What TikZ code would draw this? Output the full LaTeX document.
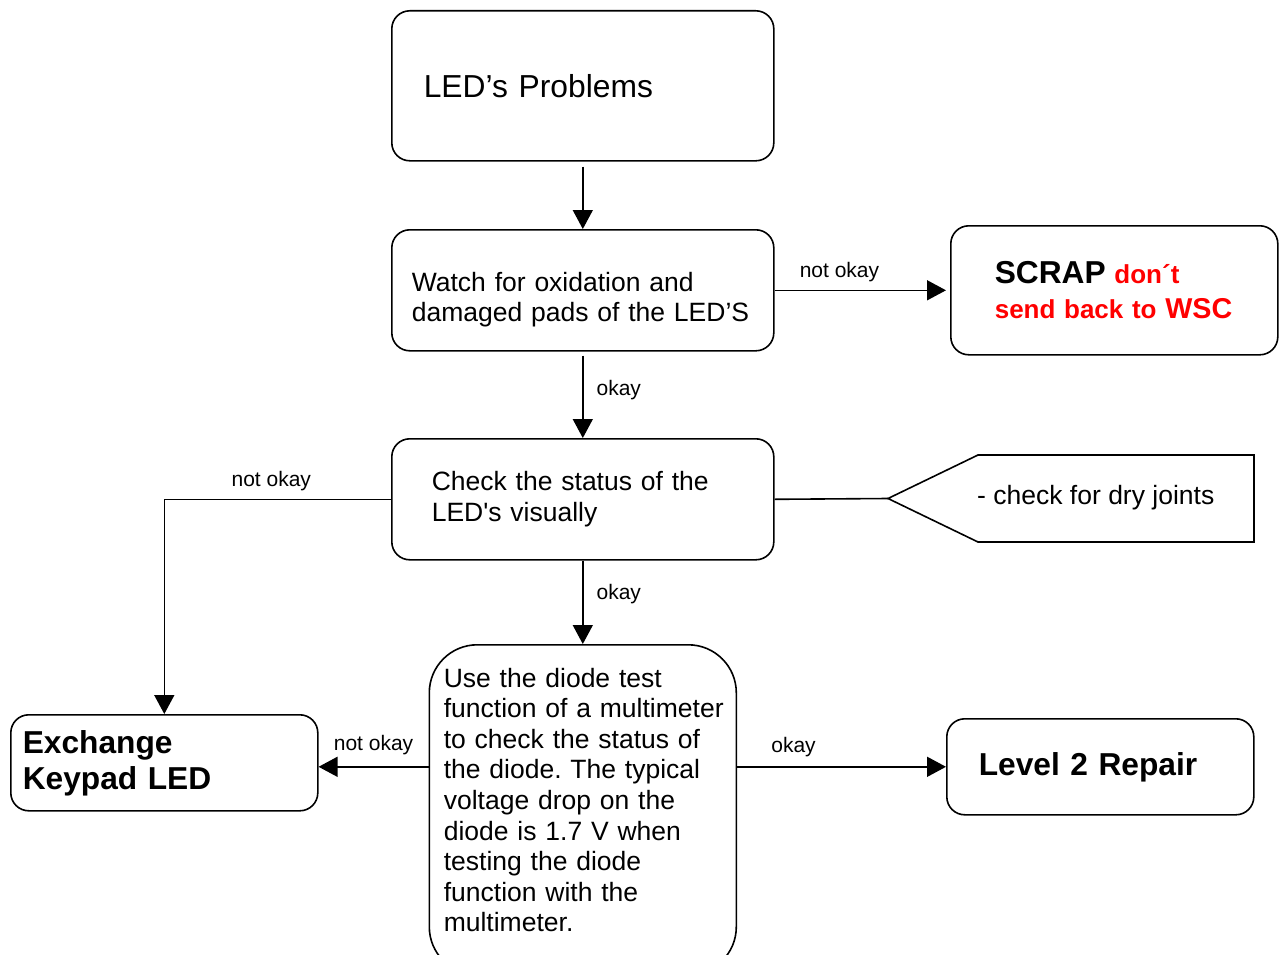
\documentclass[tikz,border=0pt]{standalone}
\usepackage{fontspec}
\setmainfont{Liberation Sans}
\usetikzlibrary{arrows.meta}
\frenchspacing

\newcommand{\bodyfont}{\fontsize{26.5}{30.6}\selectfont}
\newcommand{\bigbold}{\fontsize{31.7}{36}\selectfont\bfseries}
\newcommand{\lblfont}{\fontsize{21}{25}\selectfont}

\begin{document}
\begin{tikzpicture}[x=1pt, y=-1pt,
    box/.style={draw, line width=1.6pt, rounded corners=18pt, align=left, font=\bodyfont},
    arr/.style={-{Triangle[length=19pt,width=20pt]}, line width=1.6pt},
    lbl/.style={font=\lblfont, inner sep=3pt}]
    \useasboundingbox (0,0) rectangle (1282,955);

    \node[box, anchor=north west, inner xsep=32pt, text width=318pt, minimum height=150pt, font=\fontsize{31.8}{36}\selectfont] (prob) at (391,10) {LED’s Problems};
    \node[box, anchor=north west, inner xsep=20pt, text width=342pt, minimum height=121pt] (watch) at (391,229) {\rule{0pt}{38pt}Watch for oxidation and\\damaged pads of the LED’S};
    \node[box, anchor=north west, inner xsep=44pt, text width=239pt, minimum height=129pt, font=\fontsize{26}{35}\selectfont\bfseries] (scrap) at (950,225) {{\bigbold SCRAP} \textcolor{red}{don´t}\\\mbox{\textcolor{red}{send back to {\fontsize{28.7}{35}\selectfont WSC}}}};
    \node[box, anchor=north west, inner xsep=40pt, text width=302pt, minimum height=121pt] (chk) at (391,438) {Check the status of the\\LED\textquotesingle s visually};
    \node[box, anchor=north west, inner xsep=14.5pt, text width=278pt, minimum height=330pt, rounded corners=48pt] (diode) at (428.5,644) {Use the diode test\\\mbox{function of a multimeter}\\to check the status of\\the diode. The typical\\voltage drop on the\\diode is 1.7 V when\\testing the diode\\function with the\\multimeter.\rule[-20pt]{0pt}{0pt}};
    \node[box, anchor=north west, inner xsep=12pt, text width=283pt, minimum height=96pt, font=\bigbold] (exch) at (10,714) {Exchange\\Keypad LED};
    \node[box, anchor=north west, inner xsep=32pt, text width=243pt, minimum height=96pt, font=\bigbold] (lvl) at (946,718) {Level 2 Repair};

    % hint box on the right
    \coordinate (tip) at (888,498.5);
    \draw[line width=1.6pt] (tip) -- (978,455) -- (1254,455) -- (1254,542) -- (978,542) -- cycle;
    \node[font=\bodyfont, anchor=west, inner sep=0pt] (dry) at (977,498) {- check for dry joints};

    \draw[arr, shorten <=5pt] (prob) -- (watch);
    \draw[arr, shorten >=4pt] (watch) -- node[lbl, above=5pt, pos=0.37] (l1) {not okay} (scrap);
    \draw[arr, shorten <=4pt] (watch) -- node[lbl, right=10pt, pos=0.45] (l2) {okay} (chk);
    \draw[arr] (chk.west) -| node[lbl, above=5pt, pos=0.264] (l3) {not okay} (exch.north);
    \draw[line width=1.6pt] (chk.east) -- (tip);
    \draw[arr] (chk) -- node[lbl, right=10pt, pos=0.4] (l4) {okay} (diode);
    \draw[arr] (diode.west |- lvl.west) -- node[lbl, above=8pt] (l5) {not okay} (exch.east |- lvl.west);
    \draw[arr] (diode.east |- lvl.west) -- node[lbl, above=6pt, pos=0.27] (l6) {okay} (lvl.west);
\end{tikzpicture}
\end{document}
